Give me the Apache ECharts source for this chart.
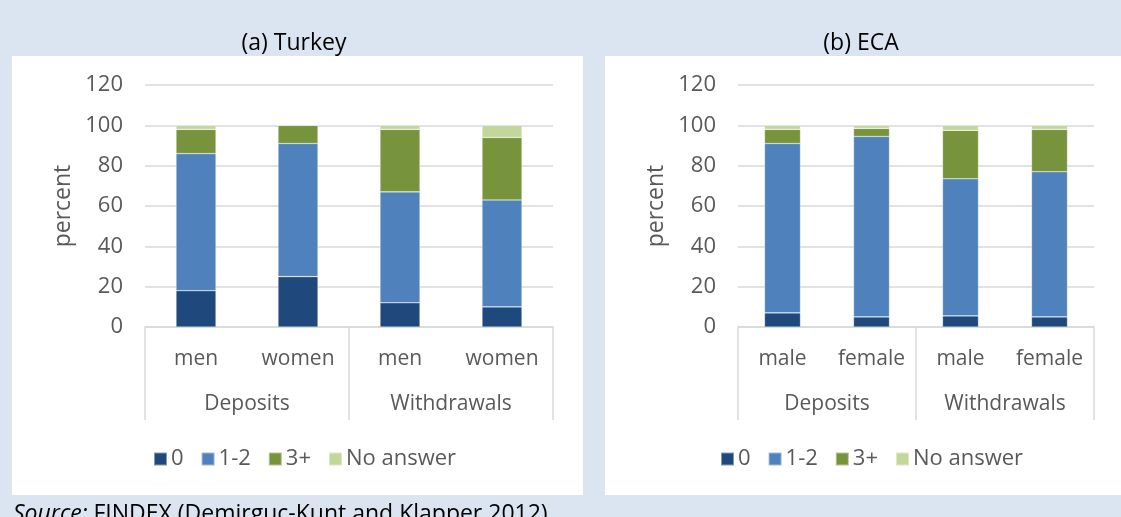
<!DOCTYPE html>
<html>
<head>
<meta charset="utf-8">
<script src="https://cdn.jsdelivr.net/npm/echarts@6/dist/echarts.min.js"></script>
<style>
  html, body { margin: 0; padding: 0; background: #dbe5f1; }
  #main { width: 1121px; height: 517px; }
</style>
</head>
<body>
<div id="main"></div>
<script>
// categories
const trSubCats = ['men', 'women', 'men', 'women'];
const ecaSubCats = ['male', 'female', 'male', 'female'];
const groupCats = ['Deposits', 'Withdrawals'];
const seriesNames = ['0', '1-2', '3+', 'No answer'];
const seriesColors = ['#1f497d', '#4f81bd', '#77933c', '#c3d69b'];

// (a) Turkey, percent
const trZero = [18, 25, 12, 10];
const trOneTwo = [68, 66, 55, 53];
const trThreePlus = [12, 9, 31, 31];
const trNoAnswer = [2, 0, 2, 6];

// (b) ECA, percent
const ecaZero = [7, 5, 5.5, 5];
const ecaOneTwo = [84, 89.5, 68, 72];
const ecaThreePlus = [7, 4, 24, 21];
const ecaNoAnswer = [2, 1.5, 2.5, 2];

const yTicks = {min: 0, max: 120, interval: 20};

const font = "'Open Sans', 'Noto Sans', sans-serif";
const grey = '#595959';
const lineGrey = '#d9d9d9';
const fs = 22;

function subAxis(gridIndex, data) {
    return {
        type: 'category', gridIndex: gridIndex, data: data, position: 'bottom',
        axisLine: {show: true, onZero: false, lineStyle: {color: lineGrey, width: 1.5}},
        axisTick: {show: false},
        axisLabel: {color: grey, fontSize: 21, fontFamily: font, margin: 22, interval: 0, hideOverlap: false}
    };
}

function groupAxis(gridIndex) {
    return {
        type: 'category', gridIndex: gridIndex, data: groupCats, position: 'bottom',
        axisLine: {show: false, onZero: false},
        axisTick: {show: true, length: 93, lineStyle: {color: lineGrey, width: 1.5}},
        axisLabel: {color: grey, fontSize: 21, fontFamily: font, margin: 67, interval: 0}
    };
}

function valueAxis(gridIndex) {
    return {
        type: 'value', gridIndex: gridIndex,
        min: yTicks.min, max: yTicks.max, interval: yTicks.interval,
        name: 'percent', nameLocation: 'middle', nameGap: 70, nameRotate: 90,
        nameTextStyle: {color: grey, fontSize: 23, fontFamily: font},
        axisLine: {show: false}, axisTick: {show: false},
        axisLabel: {color: grey, fontSize: fs, fontFamily: font, margin: 22},
        splitLine: {lineStyle: {color: lineGrey, width: 1.5}}
    };
}

function barSeries(name, data, color, axisIdx, stack, width) {
    return {
        name: name, type: 'bar', stack: stack, data: data,
        xAxisIndex: axisIdx, yAxisIndex: axisIdx / 2,
        barWidth: width,
        itemStyle: {color: color, borderColor: 'rgba(255,255,255,0.45)', borderWidth: 0.6},
        emphasis: {disabled: true}
    };
}

const trData = [trZero, trOneTwo, trThreePlus, trNoAnswer];
const ecaData = [ecaZero, ecaOneTwo, ecaThreePlus, ecaNoAnswer];
const series = [];
seriesNames.forEach(function (n, i) {
    series.push(barSeries(n, trData[i], seriesColors[i], 0, 'tr', 40));
});
seriesNames.forEach(function (n, i) {
    series.push(barSeries(n, ecaData[i], seriesColors[i], 2, 'eca', 36));
});

function legendAt(left) {
    return {
        data: seriesNames, left: left, top: 443, icon: 'rect',
        itemWidth: 13, itemHeight: 13, itemGap: 17,
        textStyle: {color: grey, fontSize: fs, fontFamily: font, padding: [0, 0, 0, -1]},
        selectedMode: false
    };
}

const option = {
    backgroundColor: '#dbe5f1',
    animation: false,
    graphic: [
        {type: 'rect', z: -10, shape: {x: 12, y: 56, width: 571, height: 439}, style: {fill: '#fff'}},
        {type: 'rect', z: -10, shape: {x: 605, y: 56, width: 520, height: 439}, style: {fill: '#fff'}},
        {type: 'text', x: 294, y: 43, style: {text: '(a) Turkey', fill: '#000', fontSize: 23, fontFamily: font, align: 'center', verticalAlign: 'middle'}},
        {type: 'text', x: 861, y: 43, style: {text: '(b) ECA', fill: '#000', fontSize: 23, fontFamily: font, align: 'center', verticalAlign: 'middle'}},
        {type: 'text', x: 557, y: -11, style: {text: 'Figure 10: Number of Transactions in Accounts in Turkey and the ECA Region, %', fill: '#2f5597', fontSize: 21, fontFamily: font, align: 'center', verticalAlign: 'middle'}},
        {type: 'text', x: 13, y: 514, style: {
            text: '{i|Source:} FINDEX (Demirguc-Kunt and Klapper 2012)',
            fill: '#000', fontSize: 23, fontFamily: font, verticalAlign: 'middle',
            rich: {i: {fontStyle: 'italic', fontSize: 23, fontFamily: font, fill: '#000'}}
        }}
    ],
    legend: [legendAt(148), legendAt(715)],
    grid: [
        {left: 145, right: 568, top: 85, bottom: 190, containLabel: false},
        {left: 738, right: 27, top: 85, bottom: 190, containLabel: false}
    ],
    xAxis: [subAxis(0, trSubCats), groupAxis(0), subAxis(1, ecaSubCats), groupAxis(1)],
    yAxis: [valueAxis(0), valueAxis(1)],
    series: series
};

const myChart = echarts.init(document.getElementById('main'));
myChart.setOption(option);
</script>
</body>
</html>
